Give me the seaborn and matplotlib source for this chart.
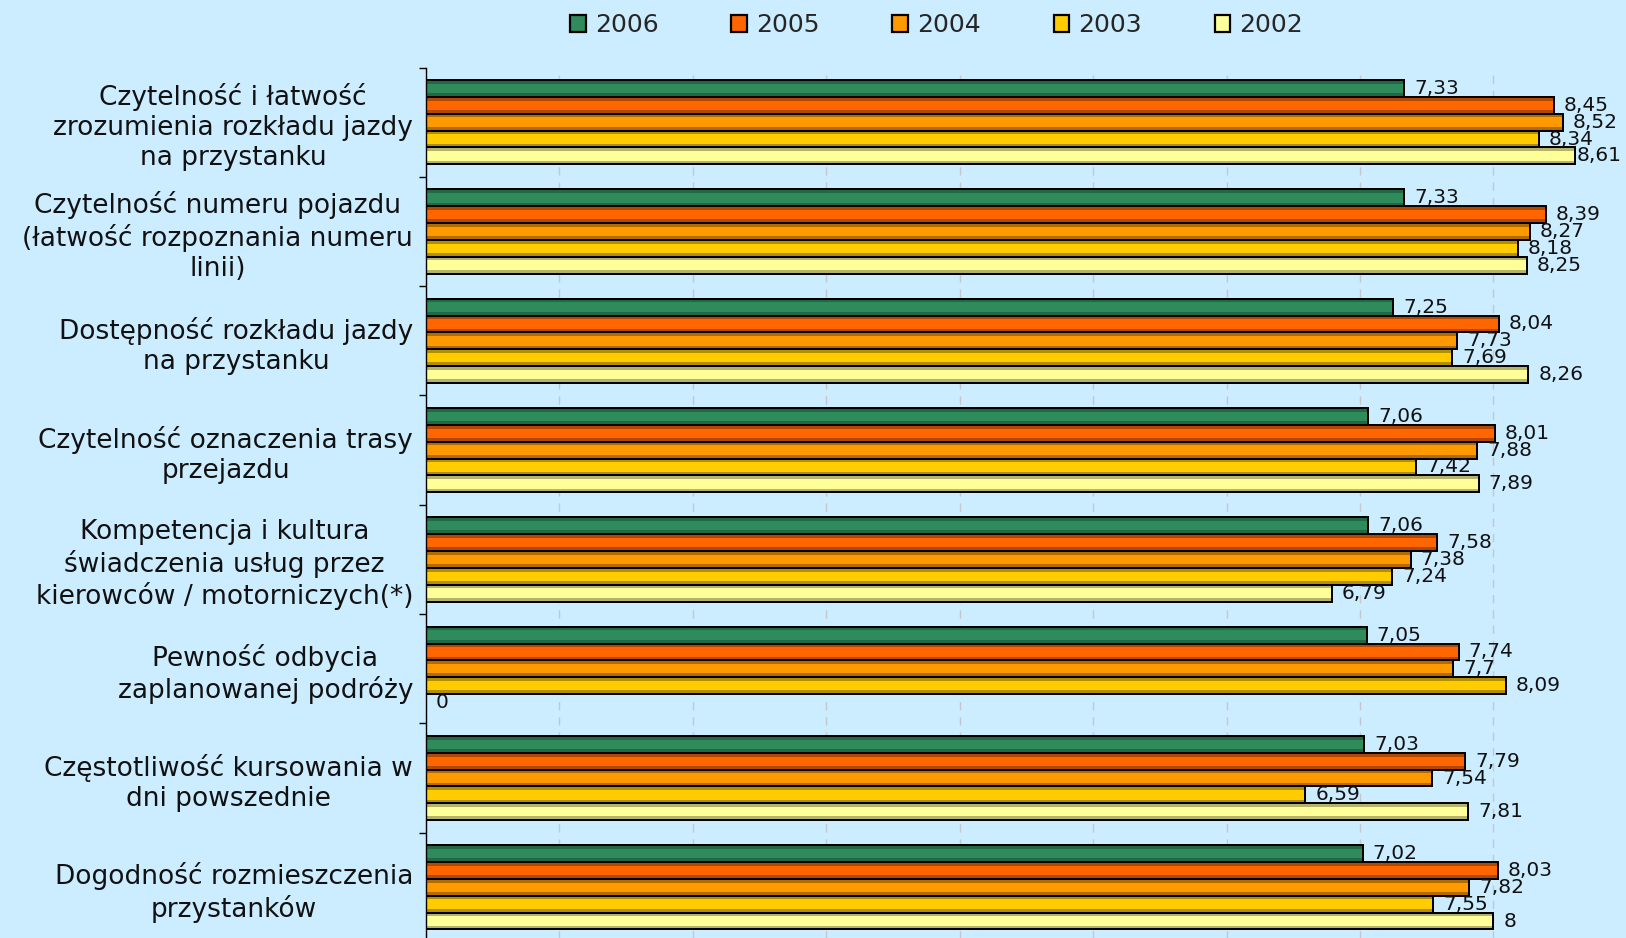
import numpy as np
import pandas as pd
import matplotlib
matplotlib.use("Agg")
import matplotlib.pyplot as plt
from matplotlib.patches import Patch, Rectangle
import seaborn as sns

# ── Data ───────────────────────────────────────────────────
categories = [
    "Czytelność i łatwość\nzrozumienia rozkładu jazdy\nna przystanku",
    "Czytelność numeru pojazdu\n(łatwość rozpoznania numeru\nlinii)",
    "Dostępność rozkładu jazdy\nna przystanku",
    "Czytelność oznaczenia trasy\nprzejazdu",
    "Kompetencja i kultura\nświadczenia usług przez\nkierowców / motorniczych(*)",
    "Pewność odbycia\nzaplanowanej podróży",
    "Częstotliwość kursowania w\ndni powszednie",
    "Dogodność rozmieszczenia\nprzystanków",
]
years = ["2006", "2005", "2004", "2003", "2002"]
v2006 = [7.33, 7.33, 7.25, 7.06, 7.06, 7.05, 7.03, 7.02]
v2005 = [8.45, 8.39, 8.04, 8.01, 7.58, 7.74, 7.79, 8.03]
v2004 = [8.52, 8.27, 7.73, 7.88, 7.38, 7.70, 7.54, 7.82]
v2003 = [8.34, 8.18, 7.69, 7.42, 7.24, 8.09, 6.59, 7.55]
v2002 = [8.61, 8.25, 8.26, 7.89, 6.79, 0.00, 7.81, 8.00]

# ── Styling ────────────────────────────────────────────────
BG = "#CCECFF"
MAIN = {"2006": "#2F8A5C", "2005": "#FF6600", "2004": "#FF9900",
        "2003": "#FFCC00", "2002": "#FFFF99"}
DARK = {"2006": "#1F6A44", "2005": "#B34800", "2004": "#B36B00",
        "2003": "#B38F00", "2002": "#B3B36B"}

sns.set_style("white")
plt.rcParams["font.family"] = ["DejaVu Sans"]

df = pd.DataFrame({
    "category": np.repeat(categories, len(years)),
    "year": years * len(categories),
    "value": np.column_stack([v2006, v2005, v2004, v2003, v2002]).ravel(),
})

fig = plt.figure(figsize=(16.26, 9.38), dpi=100, facecolor=BG)
ax = fig.add_axes([0.2618, -0.0043, 0.7388, 0.9323])
ax.set_facecolor(BG)

sns.barplot(data=df, x="value", y="category", hue="year", hue_order=years,
            order=categories, palette=DARK, orient="h", width=0.77,
            edgecolor="black", linewidth=1.4, ax=ax, legend=False,
            errorbar=None, saturation=1)

# banded fill (lighter centre) + outline on top, value labels
for year, cont in zip(years, ax.containers):
    for p, v in zip(cont.patches, cont.datavalues):
        x0, y0 = p.get_x(), p.get_y()
        w, h = p.get_width(), p.get_height()
        lab = f"{v:g}".replace(".", ",")
        if w > 0:
            ax.add_patch(Rectangle((x0, y0 + h * 0.22), w, h * 0.56,
                                   facecolor=MAIN[year], edgecolor="none", zorder=2.1))
            ax.add_patch(Rectangle((x0, y0), w, h, fill=False,
                                   edgecolor="black", linewidth=1.4, zorder=2.2))
        tx = min(v + 0.075, 9 - 0.38)
        ax.text(tx, y0 + h / 2, lab, ha="left", va="center",
                fontsize=14.5, color="#111111", zorder=3)

ax.set_xlim(0, 9)
ax.set_ylim(7.5, -0.5)
ax.set_xticks(range(10))
ax.set_xticklabels([])
ax.xaxis.grid(True, linestyle=(0, (6, 5)), color="#C4C8CC", linewidth=1)
ax.set_axisbelow(True)
ax.set_xlabel("")
ax.set_ylabel("")

ax.set_yticks(np.arange(-0.5, 8, 1), minor=True)
ax.tick_params(axis="y", which="major", length=0, pad=9, labelsize=19)
ax.tick_params(axis="y", which="minor", length=5, width=1, color="black", left=True)
ax.tick_params(axis="x", length=0)
for t in ax.get_yticklabels():
    t.set_multialignment("center")
    t.set_linespacing(1.2)
    t.set_color("#111111")

for s in ["top", "right", "bottom"]:
    ax.spines[s].set_visible(False)
ax.spines["left"].set_color("black")
ax.spines["left"].set_linewidth(1)

handles = [Patch(facecolor=MAIN[y], edgecolor="black", linewidth=1.6) for y in years]
fig.legend(handles, years, loc="center", bbox_to_anchor=(0.576, 0.973), ncol=5,
           frameon=False, handlelength=0.62, handleheight=0.7, handletextpad=0.36,
           columnspacing=2.92, prop={"size": 18})

plt.savefig("out.png", dpi=100, facecolor=BG)
